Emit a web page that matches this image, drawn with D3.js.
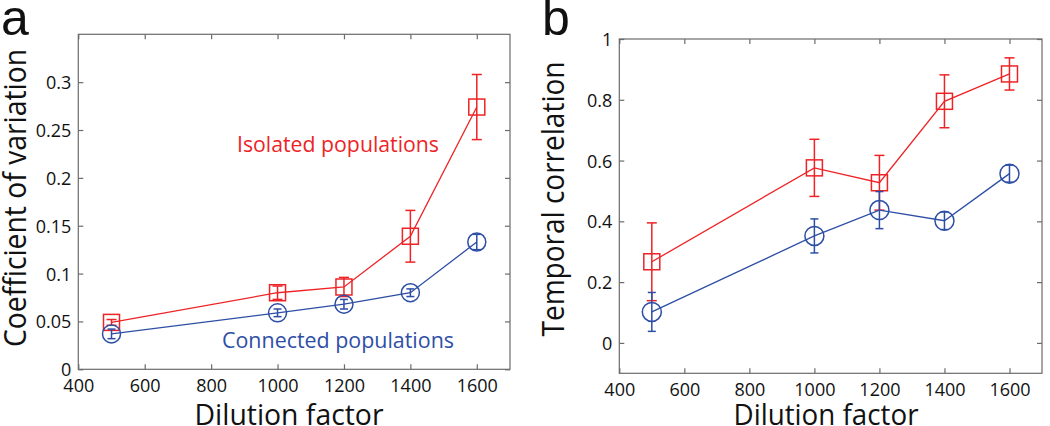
<!DOCTYPE html>
<html><head><meta charset="utf-8">
<script src="https://cdn.jsdelivr.net/npm/d3@7"></script>
<style>
body{margin:0;background:#fff;}
svg{display:block;}
text{font-family:"Open Sans","Noto Sans",sans-serif;}
</style></head>
<body>
<svg id="chart" width="1050" height="426"></svg>
<script>
// ---------- data ----------
const dilution = [500, 1000, 1200, 1400, 1600];

// panel a: coefficient of variation
const cvIsolated      = [0.049, 0.080, 0.086, 0.139, 0.274];
const cvIsolatedErr   = [0.003, 0.007, 0.010, 0.027, 0.034];
const cvConnected     = [0.037, 0.059, 0.068, 0.080, 0.133];
const cvConnectedErr  = [0.005, 0.004, 0.005, 0.004, 0.008];

// panel b: temporal correlation
const tcIsolated      = [0.267, 0.576, 0.527, 0.795, 0.885];
const tcIsolatedErr   = [0.128, 0.094, 0.090, 0.087, 0.053];
const tcConnected     = [0.102, 0.352, 0.437, 0.402, 0.557];
const tcConnectedErr  = [0.064, 0.056, 0.061, 0.029, 0.028];

const xTicks  = [400, 600, 800, 1000, 1200, 1400, 1600];
const yTicksA = [0, 0.05, 0.1, 0.15, 0.2, 0.25, 0.3];
const yTickLabelsA = ["0", "0.05", "0.1", "0.15", "0.2", "0.25", "0.3"];
const yTicksB = [0, 0.2, 0.4, 0.6, 0.8, 1];
const yTickLabelsB = ["0", "0.2", "0.4", "0.6", "0.8", "1"];

const RED = "#ee2326", BLUE = "#2d4ea5", AXIS = "#6b6b6b";

const svg = d3.select("#chart");

function panel(cfg) {
  const g = svg.append("g");
  const x = d3.scaleLinear().domain([400, 1700]).range([cfg.left, cfg.right]);
  const y = d3.scaleLinear().domain(cfg.yDomain).range([cfg.bottom, cfg.top]);

  // box
  g.append("rect").attr("x", cfg.left).attr("y", cfg.top)
    .attr("width", cfg.right - cfg.left).attr("height", cfg.bottom - cfg.top)
    .attr("fill", "none").attr("stroke", AXIS).attr("stroke-width", 1.2);

  // axes with inward ticks, mirrored
  const fmtY = d => cfg.yLabels[cfg.yTicks.indexOf(d)];
  const axB = d3.axisBottom(x).tickValues(xTicks).tickSize(-5).tickFormat(d3.format("d"));
  const axT = d3.axisTop(x).tickValues(xTicks).tickSize(-5).tickFormat("");
  const axL = d3.axisLeft(y).tickValues(cfg.yTicks).tickSize(-5).tickPadding(7).tickFormat(fmtY);
  const axR = d3.axisRight(y).tickValues(cfg.yTicks).tickSize(-5).tickFormat("");
  const made = [[axB, `translate(0,${cfg.bottom})`, "b"], [axT, `translate(0,${cfg.top})`, "t"],
   [axL, `translate(${cfg.left},0)`, "l"], [axR, `translate(${cfg.right},0)`, "r"]].map(([ax, tr, k]) => {
    const a = g.append("g").attr("transform", tr).call(ax);
    a.select(".domain").remove();
    a.selectAll("line").attr("stroke", AXIS).attr("stroke-width", 1.2);
    a.selectAll("text").attr("fill", "#111").style("font-size", "18px")
      .style("font-family", '"Open Sans","Noto Sans",sans-serif');
    return [k, a];
  });
  const axes = Object.fromEntries(made);
  axes.b.selectAll("text").attr("dy", null).attr("y", 23);
  axes.l.selectAll("text").attr("dy", "0.36em");

  // series
  cfg.series.forEach(s => {
    const pts = dilution.map((d, i) => ({x: d, y: s.values[i], e: s.err[i]}));
    const eb = g.append("g").attr("stroke", s.color).attr("stroke-width", 1.5).attr("fill", "none");
    pts.forEach(p => {
      eb.append("line").attr("x1", x(p.x)).attr("x2", x(p.x)).attr("y1", y(p.y - p.e)).attr("y2", y(p.y + p.e));
      [p.y - p.e, p.y + p.e].forEach(v => {
        eb.append("line").attr("x1", x(p.x) - s.cap).attr("x2", x(p.x) + s.cap).attr("y1", y(v)).attr("y2", y(v));
      });
    });
    g.append("path").datum(pts)
      .attr("d", d3.line().x(p => x(p.x)).y(p => y(p.y)))
      .attr("fill", "none").attr("stroke", s.color).attr("stroke-width", 1.3);
    const mk = g.append("g").attr("stroke", s.color).attr("stroke-width", 1.5).attr("fill", "none");
    if (s.marker === "square") {
      mk.selectAll("rect").data(pts).join("rect")
        .attr("x", p => x(p.x) - s.size / 2).attr("y", p => y(p.y) - s.size / 2)
        .attr("width", s.size).attr("height", s.size);
    } else {
      mk.selectAll("circle").data(pts).join("circle")
        .attr("cx", p => x(p.x)).attr("cy", p => y(p.y)).attr("r", s.size / 2);
    }
  });

  // axis labels
  g.append("text").text("Dilution factor")
    .attr("x", cfg.xLabel.x).attr("y", 424.5).attr("text-anchor", "middle")
    .attr("textLength", cfg.xLabel.len).attr("lengthAdjust", "spacingAndGlyphs")
    .style("font-size", "30px").attr("fill", "#111");
  g.append("text").text(cfg.yLabel.text)
    .attr("transform", `translate(${cfg.yLabel.x},${cfg.yLabel.y}) rotate(-90)`)
    .attr("text-anchor", "middle")
    .attr("textLength", cfg.yLabel.len).attr("lengthAdjust", "spacingAndGlyphs")
    .style("font-size", "31px").attr("fill", "#111");
  // panel letter
  g.append("text").text(cfg.letter).attr("x", cfg.letterX).attr("y", 35)
    .style("font-family", '"Liberation Sans",Arial,sans-serif').style("font-size", "50px").attr("fill", "#111");
  return {g, x, y};
}

const pa = panel({
  left: 78.3, right: 510, top: 34.3, bottom: 369.3, yDomain: [0, 0.35],
  yTicks: yTicksA, yLabels: yTickLabelsA,
  series: [
    {values: cvIsolated, err: cvIsolatedErr, color: RED, marker: "square", size: 16, cap: 5},
    {values: cvConnected, err: cvConnectedErr, color: BLUE, marker: "circle", size: 18, cap: 4}
  ],
  xLabel: {x: 289, len: 189},
  yLabel: {text: "Coefficient of variation", x: 25.5, y: 198, len: 298},
  letter: "a", letterX: 1
});
pa.g.append("text").text("Isolated populations").attr("x", 237).attr("y", 152)
  .attr("textLength", 202).attr("lengthAdjust", "spacingAndGlyphs")
  .style("font-size", "21px").attr("fill", RED);
pa.g.append("text").text("Connected populations").attr("x", 222).attr("y", 348)
  .attr("textLength", 232).attr("lengthAdjust", "spacingAndGlyphs")
  .style("font-size", "21px").attr("fill", BLUE);

panel({
  left: 619.3, right: 1042, top: 39, bottom: 373.3, yDomain: [-0.1, 1],
  yTicks: yTicksB, yLabels: yTickLabelsB,
  series: [
    {values: tcIsolated, err: tcIsolatedErr, color: RED, marker: "square", size: 16, cap: 5},
    {values: tcConnected, err: tcConnectedErr, color: BLUE, marker: "circle", size: 19, cap: 4}
  ],
  xLabel: {x: 826, len: 185},
  yLabel: {text: "Temporal correlation", x: 564, y: 199, len: 275},
  letter: "b", letterX: 542
});
</script>
</body></html>
